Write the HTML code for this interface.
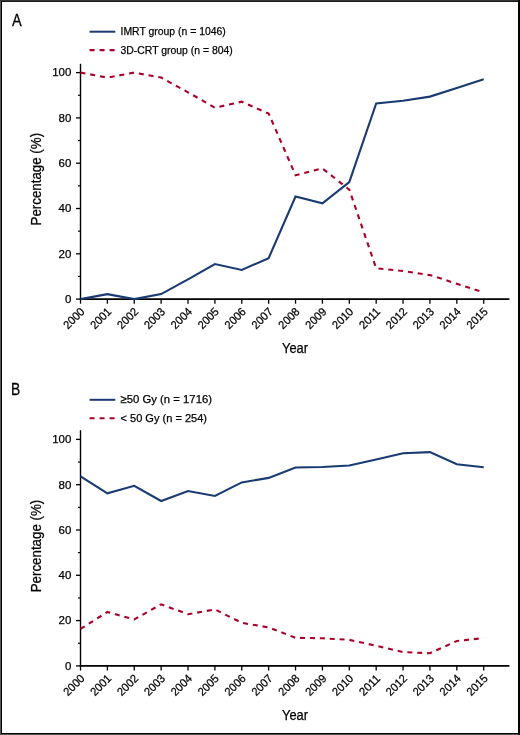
<!DOCTYPE html>
<html><head><meta charset="utf-8"><style>
html,body{margin:0;padding:0;background:#fff;width:520px;height:735px;overflow:hidden}
svg{display:block;will-change:transform}
text{font-family:"Liberation Sans", sans-serif;fill:#000;stroke:#000;stroke-width:0.25px}
</style></head><body>
<svg width="520" height="735" viewBox="0 0 520 735">
<rect x="0" y="0" width="520" height="735" fill="#fff"/>
<line x1="80.5" y1="63.8" x2="80.5" y2="299.70000000000005" stroke="#000" stroke-width="1.4"/>
<line x1="79.8" y1="299.1" x2="509.4" y2="299.1" stroke="#000" stroke-width="1.6"/>
<line x1="76" y1="299.10" x2="80.5" y2="299.10" stroke="#000" stroke-width="1.3"/>
<text x="71.4" y="302.90" text-anchor="end" font-size="11.5">0</text>
<line x1="78" y1="276.45" x2="80.5" y2="276.45" stroke="#000" stroke-width="1.2"/>
<line x1="76" y1="253.80" x2="80.5" y2="253.80" stroke="#000" stroke-width="1.3"/>
<text x="71.4" y="257.60" text-anchor="end" font-size="11.5">20</text>
<line x1="78" y1="231.15" x2="80.5" y2="231.15" stroke="#000" stroke-width="1.2"/>
<line x1="76" y1="208.50" x2="80.5" y2="208.50" stroke="#000" stroke-width="1.3"/>
<text x="71.4" y="212.30" text-anchor="end" font-size="11.5">40</text>
<line x1="78" y1="185.85" x2="80.5" y2="185.85" stroke="#000" stroke-width="1.2"/>
<line x1="76" y1="163.20" x2="80.5" y2="163.20" stroke="#000" stroke-width="1.3"/>
<text x="71.4" y="167.00" text-anchor="end" font-size="11.5">60</text>
<line x1="78" y1="140.55" x2="80.5" y2="140.55" stroke="#000" stroke-width="1.2"/>
<line x1="76" y1="117.90" x2="80.5" y2="117.90" stroke="#000" stroke-width="1.3"/>
<text x="71.4" y="121.70" text-anchor="end" font-size="11.5">80</text>
<line x1="78" y1="95.25" x2="80.5" y2="95.25" stroke="#000" stroke-width="1.2"/>
<line x1="76" y1="72.60" x2="80.5" y2="72.60" stroke="#000" stroke-width="1.3"/>
<text x="71.4" y="76.40" text-anchor="end" font-size="11.5">100</text>
<line x1="80.50" y1="299.1" x2="80.50" y2="303.70" stroke="#000" stroke-width="1.3"/>
<text x="85.30" y="312.40" text-anchor="end" font-size="11.5" textLength="24.4" lengthAdjust="spacingAndGlyphs" transform="rotate(-45 85.30 312.40)">2000</text>
<line x1="107.38" y1="299.1" x2="107.38" y2="303.70" stroke="#000" stroke-width="1.3"/>
<text x="112.18" y="312.40" text-anchor="end" font-size="11.5" textLength="24.4" lengthAdjust="spacingAndGlyphs" transform="rotate(-45 112.18 312.40)">2001</text>
<line x1="134.26" y1="299.1" x2="134.26" y2="303.70" stroke="#000" stroke-width="1.3"/>
<text x="139.06" y="312.40" text-anchor="end" font-size="11.5" textLength="24.4" lengthAdjust="spacingAndGlyphs" transform="rotate(-45 139.06 312.40)">2002</text>
<line x1="161.14" y1="299.1" x2="161.14" y2="303.70" stroke="#000" stroke-width="1.3"/>
<text x="165.94" y="312.40" text-anchor="end" font-size="11.5" textLength="24.4" lengthAdjust="spacingAndGlyphs" transform="rotate(-45 165.94 312.40)">2003</text>
<line x1="188.02" y1="299.1" x2="188.02" y2="303.70" stroke="#000" stroke-width="1.3"/>
<text x="192.82" y="312.40" text-anchor="end" font-size="11.5" textLength="24.4" lengthAdjust="spacingAndGlyphs" transform="rotate(-45 192.82 312.40)">2004</text>
<line x1="214.90" y1="299.1" x2="214.90" y2="303.70" stroke="#000" stroke-width="1.3"/>
<text x="219.70" y="312.40" text-anchor="end" font-size="11.5" textLength="24.4" lengthAdjust="spacingAndGlyphs" transform="rotate(-45 219.70 312.40)">2005</text>
<line x1="241.78" y1="299.1" x2="241.78" y2="303.70" stroke="#000" stroke-width="1.3"/>
<text x="246.58" y="312.40" text-anchor="end" font-size="11.5" textLength="24.4" lengthAdjust="spacingAndGlyphs" transform="rotate(-45 246.58 312.40)">2006</text>
<line x1="268.66" y1="299.1" x2="268.66" y2="303.70" stroke="#000" stroke-width="1.3"/>
<text x="273.46" y="312.40" text-anchor="end" font-size="11.5" textLength="24.4" lengthAdjust="spacingAndGlyphs" transform="rotate(-45 273.46 312.40)">2007</text>
<line x1="295.54" y1="299.1" x2="295.54" y2="303.70" stroke="#000" stroke-width="1.3"/>
<text x="300.34" y="312.40" text-anchor="end" font-size="11.5" textLength="24.4" lengthAdjust="spacingAndGlyphs" transform="rotate(-45 300.34 312.40)">2008</text>
<line x1="322.42" y1="299.1" x2="322.42" y2="303.70" stroke="#000" stroke-width="1.3"/>
<text x="327.22" y="312.40" text-anchor="end" font-size="11.5" textLength="24.4" lengthAdjust="spacingAndGlyphs" transform="rotate(-45 327.22 312.40)">2009</text>
<line x1="349.30" y1="299.1" x2="349.30" y2="303.70" stroke="#000" stroke-width="1.3"/>
<text x="354.10" y="312.40" text-anchor="end" font-size="11.5" textLength="24.4" lengthAdjust="spacingAndGlyphs" transform="rotate(-45 354.10 312.40)">2010</text>
<line x1="376.18" y1="299.1" x2="376.18" y2="303.70" stroke="#000" stroke-width="1.3"/>
<text x="380.98" y="312.40" text-anchor="end" font-size="11.5" textLength="24.4" lengthAdjust="spacingAndGlyphs" transform="rotate(-45 380.98 312.40)">2011</text>
<line x1="403.06" y1="299.1" x2="403.06" y2="303.70" stroke="#000" stroke-width="1.3"/>
<text x="407.86" y="312.40" text-anchor="end" font-size="11.5" textLength="24.4" lengthAdjust="spacingAndGlyphs" transform="rotate(-45 407.86 312.40)">2012</text>
<line x1="429.94" y1="299.1" x2="429.94" y2="303.70" stroke="#000" stroke-width="1.3"/>
<text x="434.74" y="312.40" text-anchor="end" font-size="11.5" textLength="24.4" lengthAdjust="spacingAndGlyphs" transform="rotate(-45 434.74 312.40)">2013</text>
<line x1="456.82" y1="299.1" x2="456.82" y2="303.70" stroke="#000" stroke-width="1.3"/>
<text x="461.62" y="312.40" text-anchor="end" font-size="11.5" textLength="24.4" lengthAdjust="spacingAndGlyphs" transform="rotate(-45 461.62 312.40)">2014</text>
<line x1="483.70" y1="299.1" x2="483.70" y2="303.70" stroke="#000" stroke-width="1.3"/>
<text x="488.50" y="312.40" text-anchor="end" font-size="11.5" textLength="24.4" lengthAdjust="spacingAndGlyphs" transform="rotate(-45 488.50 312.40)">2015</text>
<polyline points="80.50,72.60 107.38,77.58 134.26,72.60 161.14,77.58 188.02,92.31 214.90,107.71 241.78,101.71 268.66,113.60 295.54,175.20 322.42,168.41 349.30,189.70 376.18,268.30 403.06,271.01 429.94,275.09 456.82,283.70 483.70,292.53" fill="none" stroke="#ab0029" stroke-width="2.1" stroke-dasharray="5 4.885" stroke-linejoin="miter"/>
<polyline points="80.50,299.10 107.38,294.12 134.26,299.10 161.14,294.12 188.02,279.39 214.90,263.99 241.78,269.99 268.66,258.10 295.54,196.50 322.42,203.29 349.30,182.00 376.18,103.40 403.06,100.69 429.94,96.61 456.82,88.00 483.70,79.17" fill="none" stroke="#1a3a72" stroke-width="2.1" stroke-linejoin="miter"/>
<line x1="89.6" y1="31.7" x2="115.3" y2="31.7" stroke="#1a3a72" stroke-width="2"/>
<line x1="89.6" y1="50.099999999999994" x2="115.3" y2="50.099999999999994" stroke="#ab0029" stroke-width="2.1" stroke-dasharray="5 5"/>
<text x="120.5" y="35.30" font-size="11.5" textLength="105.3" lengthAdjust="spacingAndGlyphs">IMRT group (n = 1046)</text>
<text x="120.5" y="53.60" font-size="11.5" textLength="112.3" lengthAdjust="spacingAndGlyphs">3D-CRT group (n = 804)</text>
<text x="282" y="352.70" font-size="14.1" textLength="26" lengthAdjust="spacingAndGlyphs">Year</text>
<text x="40.9" y="225.50" font-size="13.9" textLength="92.6" lengthAdjust="spacingAndGlyphs" transform="rotate(-90 40.9 225.50)">Percentage (%)</text>
<text x="0" y="0" font-size="16.9" transform="translate(11.9 26.4) scale(0.86 1)">A</text>
<line x1="80.5" y1="430.2" x2="80.5" y2="666.5" stroke="#000" stroke-width="1.4"/>
<line x1="79.8" y1="665.9" x2="509.4" y2="665.9" stroke="#000" stroke-width="1.6"/>
<line x1="76" y1="665.90" x2="80.5" y2="665.90" stroke="#000" stroke-width="1.3"/>
<text x="71.4" y="669.70" text-anchor="end" font-size="11.5">0</text>
<line x1="78" y1="643.25" x2="80.5" y2="643.25" stroke="#000" stroke-width="1.2"/>
<line x1="76" y1="620.60" x2="80.5" y2="620.60" stroke="#000" stroke-width="1.3"/>
<text x="71.4" y="624.40" text-anchor="end" font-size="11.5">20</text>
<line x1="78" y1="597.95" x2="80.5" y2="597.95" stroke="#000" stroke-width="1.2"/>
<line x1="76" y1="575.30" x2="80.5" y2="575.30" stroke="#000" stroke-width="1.3"/>
<text x="71.4" y="579.10" text-anchor="end" font-size="11.5">40</text>
<line x1="78" y1="552.65" x2="80.5" y2="552.65" stroke="#000" stroke-width="1.2"/>
<line x1="76" y1="530.00" x2="80.5" y2="530.00" stroke="#000" stroke-width="1.3"/>
<text x="71.4" y="533.80" text-anchor="end" font-size="11.5">60</text>
<line x1="78" y1="507.35" x2="80.5" y2="507.35" stroke="#000" stroke-width="1.2"/>
<line x1="76" y1="484.70" x2="80.5" y2="484.70" stroke="#000" stroke-width="1.3"/>
<text x="71.4" y="488.50" text-anchor="end" font-size="11.5">80</text>
<line x1="78" y1="462.05" x2="80.5" y2="462.05" stroke="#000" stroke-width="1.2"/>
<line x1="76" y1="439.40" x2="80.5" y2="439.40" stroke="#000" stroke-width="1.3"/>
<text x="71.4" y="443.20" text-anchor="end" font-size="11.5">100</text>
<line x1="80.50" y1="665.9" x2="80.50" y2="670.50" stroke="#000" stroke-width="1.3"/>
<text x="85.30" y="679.20" text-anchor="end" font-size="11.5" textLength="24.4" lengthAdjust="spacingAndGlyphs" transform="rotate(-45 85.30 679.20)">2000</text>
<line x1="107.38" y1="665.9" x2="107.38" y2="670.50" stroke="#000" stroke-width="1.3"/>
<text x="112.18" y="679.20" text-anchor="end" font-size="11.5" textLength="24.4" lengthAdjust="spacingAndGlyphs" transform="rotate(-45 112.18 679.20)">2001</text>
<line x1="134.26" y1="665.9" x2="134.26" y2="670.50" stroke="#000" stroke-width="1.3"/>
<text x="139.06" y="679.20" text-anchor="end" font-size="11.5" textLength="24.4" lengthAdjust="spacingAndGlyphs" transform="rotate(-45 139.06 679.20)">2002</text>
<line x1="161.14" y1="665.9" x2="161.14" y2="670.50" stroke="#000" stroke-width="1.3"/>
<text x="165.94" y="679.20" text-anchor="end" font-size="11.5" textLength="24.4" lengthAdjust="spacingAndGlyphs" transform="rotate(-45 165.94 679.20)">2003</text>
<line x1="188.02" y1="665.9" x2="188.02" y2="670.50" stroke="#000" stroke-width="1.3"/>
<text x="192.82" y="679.20" text-anchor="end" font-size="11.5" textLength="24.4" lengthAdjust="spacingAndGlyphs" transform="rotate(-45 192.82 679.20)">2004</text>
<line x1="214.90" y1="665.9" x2="214.90" y2="670.50" stroke="#000" stroke-width="1.3"/>
<text x="219.70" y="679.20" text-anchor="end" font-size="11.5" textLength="24.4" lengthAdjust="spacingAndGlyphs" transform="rotate(-45 219.70 679.20)">2005</text>
<line x1="241.78" y1="665.9" x2="241.78" y2="670.50" stroke="#000" stroke-width="1.3"/>
<text x="246.58" y="679.20" text-anchor="end" font-size="11.5" textLength="24.4" lengthAdjust="spacingAndGlyphs" transform="rotate(-45 246.58 679.20)">2006</text>
<line x1="268.66" y1="665.9" x2="268.66" y2="670.50" stroke="#000" stroke-width="1.3"/>
<text x="273.46" y="679.20" text-anchor="end" font-size="11.5" textLength="24.4" lengthAdjust="spacingAndGlyphs" transform="rotate(-45 273.46 679.20)">2007</text>
<line x1="295.54" y1="665.9" x2="295.54" y2="670.50" stroke="#000" stroke-width="1.3"/>
<text x="300.34" y="679.20" text-anchor="end" font-size="11.5" textLength="24.4" lengthAdjust="spacingAndGlyphs" transform="rotate(-45 300.34 679.20)">2008</text>
<line x1="322.42" y1="665.9" x2="322.42" y2="670.50" stroke="#000" stroke-width="1.3"/>
<text x="327.22" y="679.20" text-anchor="end" font-size="11.5" textLength="24.4" lengthAdjust="spacingAndGlyphs" transform="rotate(-45 327.22 679.20)">2009</text>
<line x1="349.30" y1="665.9" x2="349.30" y2="670.50" stroke="#000" stroke-width="1.3"/>
<text x="354.10" y="679.20" text-anchor="end" font-size="11.5" textLength="24.4" lengthAdjust="spacingAndGlyphs" transform="rotate(-45 354.10 679.20)">2010</text>
<line x1="376.18" y1="665.9" x2="376.18" y2="670.50" stroke="#000" stroke-width="1.3"/>
<text x="380.98" y="679.20" text-anchor="end" font-size="11.5" textLength="24.4" lengthAdjust="spacingAndGlyphs" transform="rotate(-45 380.98 679.20)">2011</text>
<line x1="403.06" y1="665.9" x2="403.06" y2="670.50" stroke="#000" stroke-width="1.3"/>
<text x="407.86" y="679.20" text-anchor="end" font-size="11.5" textLength="24.4" lengthAdjust="spacingAndGlyphs" transform="rotate(-45 407.86 679.20)">2012</text>
<line x1="429.94" y1="665.9" x2="429.94" y2="670.50" stroke="#000" stroke-width="1.3"/>
<text x="434.74" y="679.20" text-anchor="end" font-size="11.5" textLength="24.4" lengthAdjust="spacingAndGlyphs" transform="rotate(-45 434.74 679.20)">2013</text>
<line x1="456.82" y1="665.9" x2="456.82" y2="670.50" stroke="#000" stroke-width="1.3"/>
<text x="461.62" y="679.20" text-anchor="end" font-size="11.5" textLength="24.4" lengthAdjust="spacingAndGlyphs" transform="rotate(-45 461.62 679.20)">2014</text>
<line x1="483.70" y1="665.9" x2="483.70" y2="670.50" stroke="#000" stroke-width="1.3"/>
<text x="488.50" y="679.20" text-anchor="end" font-size="11.5" textLength="24.4" lengthAdjust="spacingAndGlyphs" transform="rotate(-45 488.50 679.20)">2015</text>
<polyline points="80.50,628.98 107.38,611.99 134.26,619.47 161.14,604.29 188.02,614.26 214.90,609.39 241.78,622.87 268.66,627.39 295.54,637.81 322.42,638.27 349.30,639.85 376.18,645.74 403.06,652.08 429.94,653.22 456.82,640.99 483.70,638.04" fill="none" stroke="#ab0029" stroke-width="2.1" stroke-dasharray="5 4.885" stroke-linejoin="miter"/>
<polyline points="80.50,476.32 107.38,493.31 134.26,485.83 161.14,501.01 188.02,491.04 214.90,495.91 241.78,482.43 268.66,477.90 295.54,467.49 322.42,467.03 349.30,465.45 376.18,459.56 403.06,453.22 429.94,452.08 456.82,464.31 483.70,467.26" fill="none" stroke="#1a3a72" stroke-width="2.1" stroke-linejoin="miter"/>
<line x1="89.6" y1="399.8" x2="115.3" y2="399.8" stroke="#1a3a72" stroke-width="2"/>
<line x1="89.6" y1="418.2" x2="115.3" y2="418.2" stroke="#ab0029" stroke-width="2.1" stroke-dasharray="5 5"/>
<text x="120.5" y="403.40" font-size="11.5" textLength="91.5" lengthAdjust="spacingAndGlyphs">≥50 Gy (n = 1716)</text>
<text x="120.5" y="421.70" font-size="11.5" textLength="86.5" lengthAdjust="spacingAndGlyphs">&lt; 50 Gy (n = 254)</text>
<text x="282" y="719.50" font-size="14.1" textLength="26" lengthAdjust="spacingAndGlyphs">Year</text>
<text x="40.9" y="592.30" font-size="13.9" textLength="92.6" lengthAdjust="spacingAndGlyphs" transform="rotate(-90 40.9 592.30)">Percentage (%)</text>
<text x="0" y="0" font-size="16.9" transform="translate(11.0 394.9) scale(0.82 1)">B</text>
<rect x="0" y="0" width="1" height="735" fill="#555"/>
<rect x="0" y="0" width="520" height="1" fill="#333"/>
<rect x="0" y="734" width="520" height="1" fill="#555"/>
<rect x="1" y="1" width="1" height="733" fill="#000"/>
<rect x="1" y="1" width="518" height="1" fill="#1a1a1a"/>
<rect x="1" y="733" width="518" height="1" fill="#000"/>
<rect x="518" y="0" width="2" height="735" fill="#000"/>
</svg>
</body></html>
